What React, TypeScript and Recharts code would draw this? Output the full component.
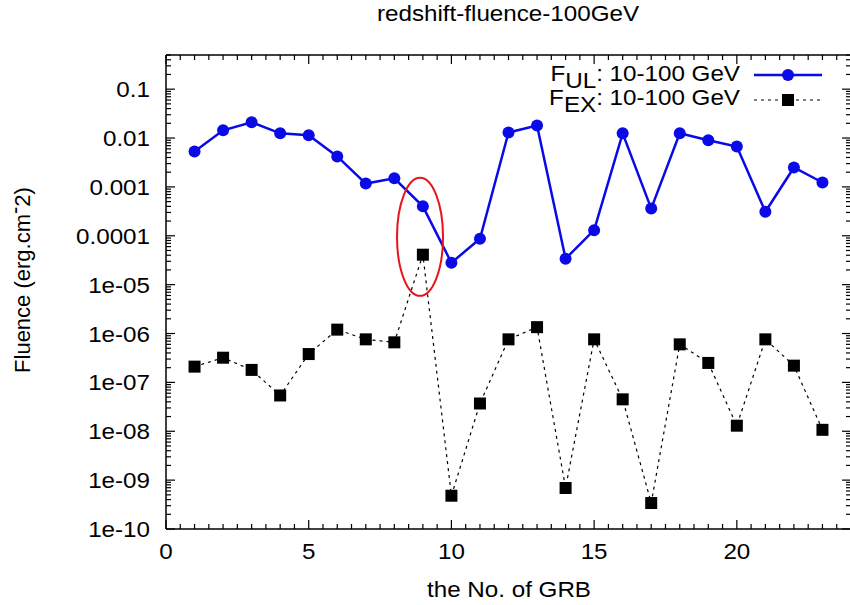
import React from "react";
import { LineChart, Line, XAxis, YAxis, ReferenceDot } from "recharts";

// GRB index on the x axis
const grbNo = [1, 2, 3, 4, 5, 6, 7, 8, 9, 10, 11, 12, 13, 14, 15, 16, 17, 18, 19, 20, 21, 22, 23];

// F_UL: 10-100 GeV (blue, solid)
const fluenceUL = [
  0.0053, 0.0144, 0.021, 0.0125, 0.0114, 0.0042, 0.00117, 0.0015, 0.0004, 2.8e-5, 8.7e-5, 0.013,
  0.018, 3.4e-5, 1.3e-4, 0.0125, 3.6e-4, 0.0125, 0.009, 0.0067, 3.1e-4, 0.0025, 0.00123,
];

// F_EX: 10-100 GeV (black, dashed)
const fluenceEX = [
  2.1e-7, 3.2e-7, 1.8e-7, 5.4e-8, 3.8e-7, 1.2e-6, 7.6e-7, 6.6e-7, 4.1e-5, 4.8e-10, 3.7e-8, 7.6e-7,
  1.35e-6, 6.9e-10, 7.6e-7, 4.5e-8, 3.4e-10, 6e-7, 2.5e-7, 1.3e-8, 7.6e-7, 2.2e-7, 1.07e-8,
];

const xLabelTicks = [0, 5, 10, 15, 20];
const yDecades = [-10, -9, -8, -7, -6, -5, -4, -3, -2, -1];
const yMax = 0.5;

// highlighted point (red ellipse)
const highlight = { x: 8.9, y: 9.5e-5 };

const rows = grbNo.map((n, i) => ({ grb: n, ul: fluenceUL[i], ex: fluenceEX[i] }));

const xTicks: number[] = [];
for (let i = 0; i <= 48; i++) xTicks.push(i / 2);

const yTicks: number[] = [];
yDecades.forEach((e) => {
  for (let m = 1; m <= 9; m++) {
    const v = m * Math.pow(10, e);
    if (v <= yMax * 1.0001) yTicks.push(v);
  }
});

const FONT = "'Liberation Sans', Arial, Helvetica, sans-serif";
const FS = 22;
const STRETCH = 1.1;
const BLUE = "#0a0ae8";

const isDecade = (v: number) => {
  const l = Math.log10(v);
  return Math.abs(l - Math.round(l)) < 1e-6;
};

const fmtY = (v: number) => {
  const e = Math.round(Math.log10(v));
  if (e >= -4) return v.toFixed(-e);
  return `1e-${String(-e).padStart(2, "0")}`;
};

// text slightly widened, like the original bitmap
const WideText = ({ x, y, anchor, children }: any) => (
  <text
    transform={`translate(${x},${y}) scale(${STRETCH},1)`}
    textAnchor={anchor}
    fontFamily={FONT}
    fontSize={FS}
    fill="#000"
  >
    {children}
  </text>
);

const BottomTick = (props: any) => {
  const { x, y, payload } = props;
  const v = payload.value;
  const major = v % 5 === 0;
  return (
    <g>
      <line x1={x} x2={x} y1={y} y2={y - (major ? 9 : 5)} stroke="#000" strokeWidth={1.2} />
      {major && xLabelTicks.includes(v) && (
        <WideText x={x} y={y + 30} anchor="middle">
          {v}
        </WideText>
      )}
    </g>
  );
};

const TopTick = (props: any) => {
  const { x, y, payload } = props;
  const major = payload.value % 5 === 0;
  return <line x1={x} x2={x} y1={y} y2={y + (major ? 9 : 5)} stroke="#000" strokeWidth={1.2} />;
};

const LeftTick = (props: any) => {
  const { x, y, payload } = props;
  const major = isDecade(payload.value);
  return (
    <g>
      <line x1={x} x2={x + (major ? 9 : 5)} y1={y} y2={y} stroke="#000" strokeWidth={1.2} />
      {major && (
        <WideText x={x - 16} y={y + 8} anchor="end">
          {fmtY(payload.value)}
        </WideText>
      )}
    </g>
  );
};

const RightTick = (props: any) => {
  const { x, y, payload } = props;
  const major = isDecade(payload.value);
  return <line x1={x} x2={x - (major ? 9 : 5)} y1={y} y2={y} stroke="#000" strokeWidth={1.2} />;
};

const BlueDot = (props: any) => {
  const { cx, cy, index } = props;
  return <circle key={index} cx={cx} cy={cy} r={6} fill={BLUE} />;
};

const BlackSquare = (props: any) => {
  const { cx, cy, index } = props;
  return <rect key={index} x={cx - 6} y={cy - 6} width={12} height={12} fill="#000" />;
};

const Ellipse = (props: any) => (
  <ellipse cx={props.cx} cy={props.cy} rx={23} ry={59} fill="none" stroke="#e8141c" strokeWidth={2} />
);

export default function App() {
  return (
    <div
      style={{
        position: "absolute",
        left: 0,
        top: 0,
        width: 850,
        height: 605,
        overflow: "hidden",
        background: "#fff",
      }}
    >
      <LineChart width={856} height={605} data={rows} margin={{ top: 54, right: 4, bottom: 75, left: 0 }}>
        <XAxis
          xAxisId="b"
          dataKey="grb"
          type="number"
          domain={[0, 24]}
          ticks={xTicks}
          interval={0}
          height={1}
          tickSize={0}
          tickMargin={0}
          tickLine={false}
          tick={<BottomTick />}
          axisLine={{ stroke: "#000", strokeWidth: 1.5 }}
        />
        <XAxis
          xAxisId="t"
          orientation="top"
          dataKey="grb"
          type="number"
          domain={[0, 24]}
          ticks={xTicks}
          interval={0}
          height={1}
          tickSize={0}
          tickMargin={0}
          tickLine={false}
          tick={<TopTick />}
          axisLine={{ stroke: "#000", strokeWidth: 1.5 }}
        />
        <YAxis
          yAxisId="l"
          scale="log"
          type="number"
          domain={[1e-10, yMax]}
          allowDataOverflow
          ticks={yTicks}
          interval={0}
          width={166}
          tickSize={0}
          tickMargin={0}
          tickLine={false}
          tick={<LeftTick />}
          axisLine={{ stroke: "#000", strokeWidth: 1.5 }}
        />
        <YAxis
          yAxisId="r"
          orientation="right"
          scale="log"
          type="number"
          domain={[1e-10, yMax]}
          allowDataOverflow
          ticks={yTicks}
          interval={0}
          width={1}
          tickSize={0}
          tickMargin={0}
          tickLine={false}
          tick={<RightTick />}
          axisLine={{ stroke: "#000", strokeWidth: 1.5 }}
        />
        <Line
          xAxisId="b"
          yAxisId="l"
          dataKey="ul"
          stroke={BLUE}
          strokeWidth={2.5}
          dot={<BlueDot />}
          activeDot={false}
          isAnimationActive={false}
        />
        <Line
          xAxisId="b"
          yAxisId="l"
          dataKey="ex"
          stroke="#000"
          strokeWidth={1.2}
          strokeDasharray="3 4"
          dot={<BlackSquare />}
          activeDot={false}
          isAnimationActive={false}
        />
        <ReferenceDot
          xAxisId="b"
          yAxisId="l"
          x={highlight.x}
          y={highlight.y}
          ifOverflow="visible"
          shape={<Ellipse />}
        />
      </LineChart>
      <svg
        width={850}
        height={605}
        style={{ position: "absolute", left: 0, top: 0, pointerEvents: "none" }}
      >
        <WideText x={508} y={21} anchor="middle">
          redshift-fluence-100GeV
        </WideText>
        <WideText x={509} y={597} anchor="middle">
          the No. of GRB
        </WideText>
        <text
          transform="translate(30,280) rotate(-90)"
          textAnchor="middle"
          fontFamily={FONT}
          fontSize={FS}
          fill="#000"
        >
          Fluence (erg.cm
          <tspan dy={-8}>-</tspan>
          <tspan dy={8}>2)</tspan>
        </text>
        <WideText x={740} y={81} anchor="end">
          F<tspan dy={7}>UL</tspan>
          <tspan dy={-7}>: 10-100 GeV</tspan>
        </WideText>
        <line x1={754} x2={822} y1={75} y2={75} stroke={BLUE} strokeWidth={2.5} />
        <circle cx={788} cy={75} r={6} fill={BLUE} />
        <WideText x={740} y={105} anchor="end">
          F<tspan dy={7}>EX</tspan>
          <tspan dy={-7}>: 10-100 GeV</tspan>
        </WideText>
        <line x1={754} x2={822} y1={100} y2={100} stroke="#000" strokeWidth={1.2} strokeDasharray="3 4" />
        <rect x={782} y={94} width={12} height={12} fill="#000" />
      </svg>
    </div>
  );
}
